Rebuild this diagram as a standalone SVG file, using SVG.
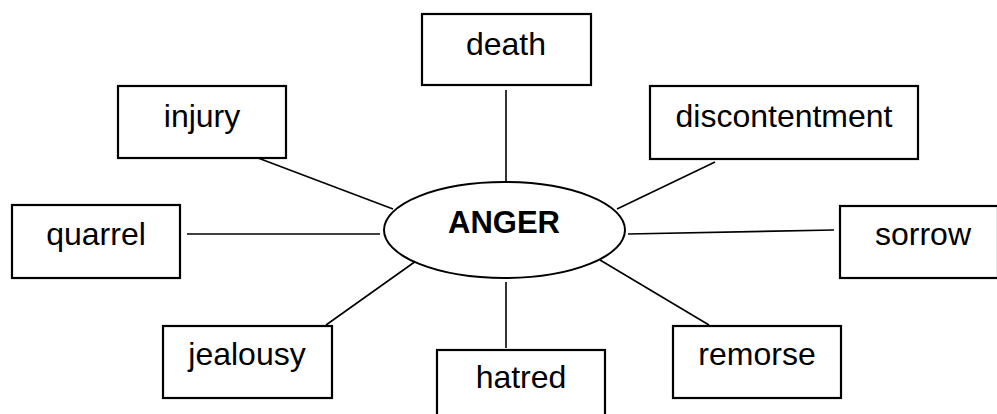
<svg xmlns="http://www.w3.org/2000/svg" width="997" height="414" viewBox="0 0 997 414">
<style>
.box{fill:#fff;stroke:#000;stroke-width:2.2}
.lbl{font-family:"Liberation Sans",Arial,sans-serif;font-size:32px;fill:#000;text-anchor:middle}
.ctr{font-family:"Liberation Sans",Arial,sans-serif;font-size:31px;font-weight:bold;fill:#000;text-anchor:middle}
.con line{stroke:#000;stroke-width:1.6}
</style>
<rect width="997" height="414" fill="#fff"/>
<g id="connectors" class="con">
<line x1="506" y1="90" x2="506" y2="187"/>
<line x1="258" y1="158" x2="393" y2="209"/>
<line x1="715" y1="162" x2="617" y2="209"/>
<line x1="187" y1="234" x2="380" y2="234"/>
<line x1="628" y1="234" x2="834" y2="230"/>
<line x1="416" y1="261" x2="326" y2="325"/>
<line x1="600" y1="260" x2="709" y2="325"/>
<line x1="506" y1="282" x2="506" y2="348"/>
</g>
<g id="anger">
<ellipse cx="504.5" cy="230" rx="120.5" ry="48" fill="#fff" stroke="#000" stroke-width="2"/>
<text class="ctr" x="504" y="233">ANGER</text>
</g>
<g id="death">
<rect class="box" x="422" y="14" width="169" height="71"/>
<text class="lbl" x="506" y="55">death</text>
</g>
<g id="injury">
<rect class="box" x="118" y="86" width="168" height="72"/>
<text class="lbl" x="202" y="127">injury</text>
</g>
<g id="discontentment">
<rect class="box" x="650" y="86" width="268" height="73"/>
<text class="lbl" x="784" y="127">discontentment</text>
</g>
<g id="quarrel">
<rect class="box" x="12" y="205" width="168" height="73"/>
<text class="lbl" x="96" y="245">quarrel</text>
</g>
<g id="sorrow">
<rect class="box" x="840" y="206" width="158" height="72"/>
<text class="lbl" x="923" y="245">sorrow</text>
</g>
<g id="jealousy">
<rect class="box" x="163" y="326" width="169" height="72"/>
<text class="lbl" x="247" y="365">jealousy</text>
</g>
<g id="remorse">
<rect class="box" x="673" y="326" width="168" height="72"/>
<text class="lbl" x="757" y="365">remorse</text>
</g>
<g id="hatred">
<rect class="box" x="437" y="350" width="168" height="72"/>
<text class="lbl" x="521" y="388">hatred</text>
</g>
</svg>
